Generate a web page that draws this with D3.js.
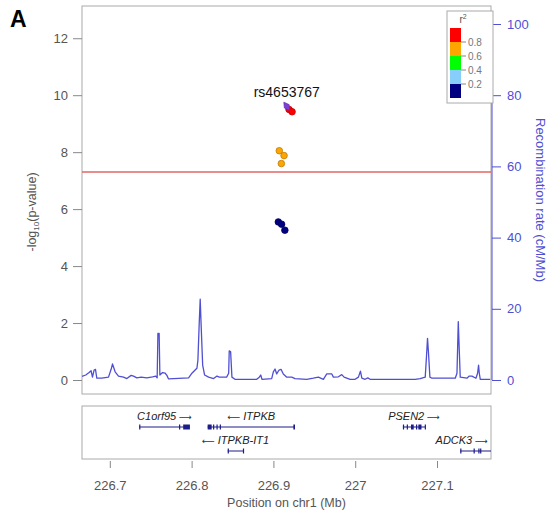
<!DOCTYPE html>
<html><head><meta charset="utf-8">
<script src="https://cdn.jsdelivr.net/npm/d3@7"></script>
<style>
body{margin:0;background:#fff}
text{font-family:"Liberation Sans",Arial,Helvetica,sans-serif}
</style>
</head><body>
<svg id="chart" width="549" height="517"></svg>
<script>
// SNP association results around ITPKB (chr1, Mb)
const snpPos  = [226.9163, 226.9191, 226.9228, 226.9072, 226.9130, 226.9097, 226.9060, 226.9100, 226.9140];
const snpLogP = [9.61, 9.50, 9.42, 8.05, 7.88, 7.60, 5.55, 5.47, 5.26];
const snpR2   = [1.00, 0.92, 0.88, 0.72, 0.70, 0.66, 0.05, 0.06, 0.04];
const leadSnp = "rs4653767";

// Recombination rate (cM/Mb)
const recPos = [226.6660,226.6706,226.6747,226.6771,226.6788,226.6808,226.6825,226.6841,226.6902,226.6984,
  226.7016,226.7033,226.7065,226.7106,226.7168,226.7208,226.7261,226.7290,226.7330,226.7383,
  226.7453,226.7523,226.7563,226.7579,226.7588,226.7603,226.7612,226.7645,226.7677,226.7698,
  226.7718,226.7780,226.7963,226.8004,226.8065,226.8077,226.8093,226.8105,226.8117,226.8135,
  226.8159,226.8208,226.8269,226.8310,226.8338,226.8428,226.8453,226.8460,226.8477,226.8493,
  226.8530,226.8796,226.8827,226.8845,226.8860,226.8979,226.8999,226.9020,226.9040,226.9069,
  226.9093,226.9121,226.9163,226.9224,226.9264,226.9408,226.9488,226.9550,226.9611,226.9652,
  226.9714,226.9733,226.9794,226.9836,226.9864,226.9938,226.9999,227.0039,227.0064,227.0081,
  227.0121,227.0154,227.0182,227.0733,227.0794,227.0856,227.0871,227.0884,227.0896,227.0913,
  227.0938,227.1223,227.1244,227.1260,227.1272,227.1284,227.1366,227.1394,227.1427,227.1476,
  227.1496,227.1508,227.1517,227.1529,227.1651];
const recRate = [1.0,1.4,2.1,2.6,0.8,2.8,3.0,0.5,0.5,0.8,
  3.0,4.5,2.3,1.1,0.8,0.4,1.3,1.1,0.6,0.8,
  0.6,0.9,1.1,0.6,13.1,13.1,1.4,2.1,1.9,1.3,
  0.3,0.4,0.6,1.9,3.3,5.6,15.9,22.7,15.0,4.2,
  1.4,0.8,0.4,1.1,0.8,0.8,1.9,8.2,7.9,0.8,
  0.2,0.2,0.8,1.4,0.2,0.4,2.3,3.1,1.7,2.8,
  3.0,1.7,0.8,0.8,0.4,0.2,0.5,0.8,0.2,1.7,
  1.7,0.8,0.9,1.5,0.8,0.2,0.2,0.8,2.5,0.5,
  0.2,0.6,0.2,0.2,0.4,0.8,6.5,11.7,7.5,0.8,
  0.5,0.5,1.9,16.4,8.4,0.8,0.5,1.1,1.1,0.5,
  1.9,4.2,1.9,0.2,0.2];

// Genes in the region
const geneNames  = ["C1orf95", "ITPKB", "PSEN2", "ITPKB-IT1", "ADCK3"];
const geneStart  = [226.7359, 226.8196, 227.0583, 226.8441, 227.1284];
const geneEnd    = [226.7979, 226.9264, 227.0856, 226.8632, 227.1750];
const geneStrand = ["+", "-", "+", "-", "+"];
const geneRow    = [0, 0, 0, 1, 1];
const geneExons  = [
  [[226.7359,226.7364],[226.7846,226.7852],[226.7897,226.7979]],
  [[226.8196,226.8245],[226.8262,226.8267],[226.8304,226.8309],[226.8344,226.8349],[226.9244,226.9264]],
  [[227.0583,227.0590],[227.0630,227.0636],[227.0682,227.0715],[227.0743,227.0748],[227.0772,227.0810],[227.0850,227.0856]],
  [[226.8441,226.8446],[226.8627,226.8632]],
  [[227.1284,227.1289],[227.1447,227.1452],[227.1505,227.1510],[227.1527,227.1532],[227.1730,227.1735]]
];

const xTicks = [226.7, 226.8, 226.9, 227.0, 227.1];
const yTicks = [0, 2, 4, 6, 8, 10, 12];
const recTicks = [0, 20, 40, 60, 80, 100];
const r2Breaks = [0, 0.2, 0.4, 0.6, 0.8, 1.0];
const r2Colors = ["#000080", "#87CEFA", "#00FF00", "#FFA500", "#FF0000"];
const gwSig = 7.3;

const svg = d3.select("#chart");
const P = {left: 82, right: 491, top: 6, bottom: 394};
const G = {top: 406, bottom: 459};
const BLUE = "#4f4fd4";
const GREY = "#555";

const x = d3.scaleLinear().domain([226.666, 227.166]).range([P.left, P.right]);
const y = d3.scaleLinear().domain([0, 12.5]).range([380, 24]);
const yRec = d3.scaleLinear().domain([0, 100]).range([380, 24]);
const r2Color = d3.scaleThreshold().domain(r2Breaks.slice(1, -1)).range(r2Colors);

// Panel label
svg.append("text").attr("x", 10).attr("y", 27).attr("font-size", 23).attr("font-weight", "bold").text("A");

// Main panel frame
svg.append("rect").attr("x", P.left).attr("y", P.top).attr("width", P.right - P.left).attr("height", P.bottom - P.top)
  .attr("fill", "none").attr("stroke", "#aaa").attr("stroke-width", 1);

svg.append("defs").append("clipPath").attr("id", "geneClip").append("rect")
  .attr("x", P.left).attr("y", G.top).attr("width", P.right - P.left).attr("height", G.bottom - G.top);

// Left axis
const yAxis = svg.append("g").attr("transform", `translate(${P.left},0)`)
  .call(d3.axisLeft(y).tickValues(yTicks).tickSize(9).tickPadding(5).tickFormat(d3.format("d")));
yAxis.select(".domain").remove();
yAxis.selectAll("line").attr("stroke", "#888");
yAxis.selectAll("text").attr("fill", GREY).attr("font-size", 13);

const yl = svg.append("text").attr("transform", "translate(36,212) rotate(-90)").attr("text-anchor", "middle")
  .attr("fill", GREY).attr("font-size", 12.5);
yl.append("tspan").text("-log");
yl.append("tspan").attr("font-size", 8).attr("dy", 3).text("10");
yl.append("tspan").attr("dy", -3).text("(p-value)");

// Right axis (recombination)
const rAxis = svg.append("g").attr("transform", `translate(${P.right + 1},0)`)
  .call(d3.axisRight(yRec).tickValues(recTicks).tickSize(9).tickPadding(6));
rAxis.select(".domain").attr("stroke", BLUE).attr("d", `M0,${yRec(100)}V${yRec(0)}`);
rAxis.selectAll("line").attr("stroke", BLUE);
rAxis.selectAll("text").attr("fill", BLUE).attr("font-size", 13);

svg.append("text").attr("transform", "translate(536,200) rotate(90)").attr("text-anchor", "middle")
  .attr("fill", BLUE).attr("font-size", 13).text("Recombination rate (cM/Mb)");

// Recombination rate line
svg.append("path").datum(d3.zip(recPos, recRate))
  .attr("d", d3.line().x(d => x(d[0])).y(d => yRec(d[1])))
  .attr("fill", "none").attr("stroke", BLUE).attr("stroke-width", 1.3).attr("stroke-linejoin", "round");

// Genome-wide significance threshold
svg.append("line").attr("x1", P.left).attr("x2", P.right).attr("y1", y(gwSig)).attr("y2", y(gwSig))
  .attr("stroke", "#e06666").attr("stroke-width", 1.5);

// SNPs
const snps = snpPos.map((p, i) => ({pos: p, lp: snpLogP[i], r2: snpR2[i]}));
const others = snps.filter(d => d.r2 < 1);
svg.append("g").selectAll("circle").data(others).join("circle")
  .attr("cx", d => x(d.pos)).attr("cy", d => y(d.lp)).attr("r", 3.3)
  .attr("fill", d => r2Color(d.r2))
  .attr("stroke", d => d3.color(r2Color(d.r2)).darker(0.8)).attr("stroke-width", 0.8);

const lead = snps.find(d => d.r2 >= 1);
svg.append("path").attr("d", d3.symbol(d3.symbolDiamond, 30)())
  .attr("transform", `translate(${x(lead.pos)},${y(lead.lp)}) rotate(-35)`)
  .attr("fill", "#7d40d6").attr("stroke", "#5f2ab0").attr("stroke-width", 0.6);
svg.append("text").attr("x", x(lead.pos)).attr("y", y(lead.lp) - 9).attr("text-anchor", "middle")
  .attr("font-size", 14).attr("fill", "#111").text(leadSnp);

// r² legend
const L = {x: 447, y: 11, w: 46, h: 92, cx: 450, cw: 11, top: 28, ch: 14};
svg.append("rect").attr("x", L.x).attr("y", L.y).attr("width", L.w).attr("height", L.h)
  .attr("fill", "#fff").attr("stroke", "#aaa");
const lt = svg.append("text").attr("x", 463).attr("y", 23).attr("fill", GREY).attr("font-size", 10).attr("text-anchor", "middle");
lt.append("tspan").text("r");
lt.append("tspan").attr("font-size", 7).attr("dy", -4).text("2");
const cells = r2Colors.slice().reverse();
svg.append("g").selectAll("rect").data(cells).join("rect")
  .attr("x", L.cx).attr("y", (d, i) => L.top + i * L.ch).attr("width", L.cw).attr("height", L.ch)
  .attr("fill", d => d);
const legLabels = r2Breaks.slice(1, -1).reverse();
legLabels.forEach((v, i) => {
  const yy = L.top + (i + 1) * L.ch;
  svg.append("line").attr("x1", L.cx + L.cw).attr("x2", L.cx + L.cw + 5).attr("y1", yy).attr("y2", yy).attr("stroke", "#888");
  svg.append("text").attr("x", L.cx + L.cw + 7).attr("y", yy + 3.5).attr("font-size", 10).attr("fill", "#777").text(v.toFixed(1));
});

// Gene track
svg.append("rect").attr("x", P.left).attr("y", G.top).attr("width", P.right - P.left).attr("height", G.bottom - G.top)
  .attr("fill", "none").attr("stroke", "#aaa");
const gRowLine = [427, 451];
const gRowLabel = [420, 444];
const gg = svg.append("g").attr("clip-path", "url(#geneClip)");
geneNames.forEach((name, i) => {
  const ly = gRowLine[geneRow[i]];
  gg.append("line").attr("x1", x(geneStart[i])).attr("x2", x(geneEnd[i])).attr("y1", ly).attr("y2", ly)
    .attr("stroke", "#1c1c8a").attr("stroke-width", 1);
  geneExons[i].forEach(e => {
    gg.append("rect").attr("x", x(e[0])).attr("y", ly - 2.5)
      .attr("width", Math.max(1.2, x(e[1]) - x(e[0]))).attr("height", 5).attr("fill", "#1c1c8a");
  });
  const t = svg.append("text").attr("y", gRowLabel[geneRow[i]])
    .attr("text-anchor", "middle").attr("font-size", 11).attr("fill", "#222");
  const nm = () => t.append("tspan").attr("font-style", "italic").text(name);
  const arrow = (s) => t.append("tspan").attr("font-family", "DejaVu Sans").attr("font-size", 9).attr("fill", "#333").text(s);
  if (geneStrand[i] === "+") { nm(); arrow(" \u27F6"); } else { arrow("\u27F5 "); nm(); }
  const w = t.node().getComputedTextLength();
  let cx = (x(geneStart[i]) + x(geneEnd[i])) / 2;
  cx = Math.min(cx, P.right - 3 - w / 2);
  t.attr("x", cx);
});

// Bottom axis
const xAxis = svg.append("g").attr("transform", `translate(0,${G.bottom + 2})`)
  .call(d3.axisBottom(x).tickValues(xTicks).tickSize(7).tickPadding(13).tickFormat(d => +d.toFixed(1)));
xAxis.select(".domain").remove();
xAxis.selectAll("line").attr("stroke", "#888");
xAxis.selectAll("text").attr("fill", GREY).attr("font-size", 13);

svg.append("text").attr("x", (P.left + P.right) / 2).attr("y", 507).attr("text-anchor", "middle")
  .attr("fill", GREY).attr("font-size", 12.5).text("Position on chr1 (Mb)");
</script>
</body></html>
